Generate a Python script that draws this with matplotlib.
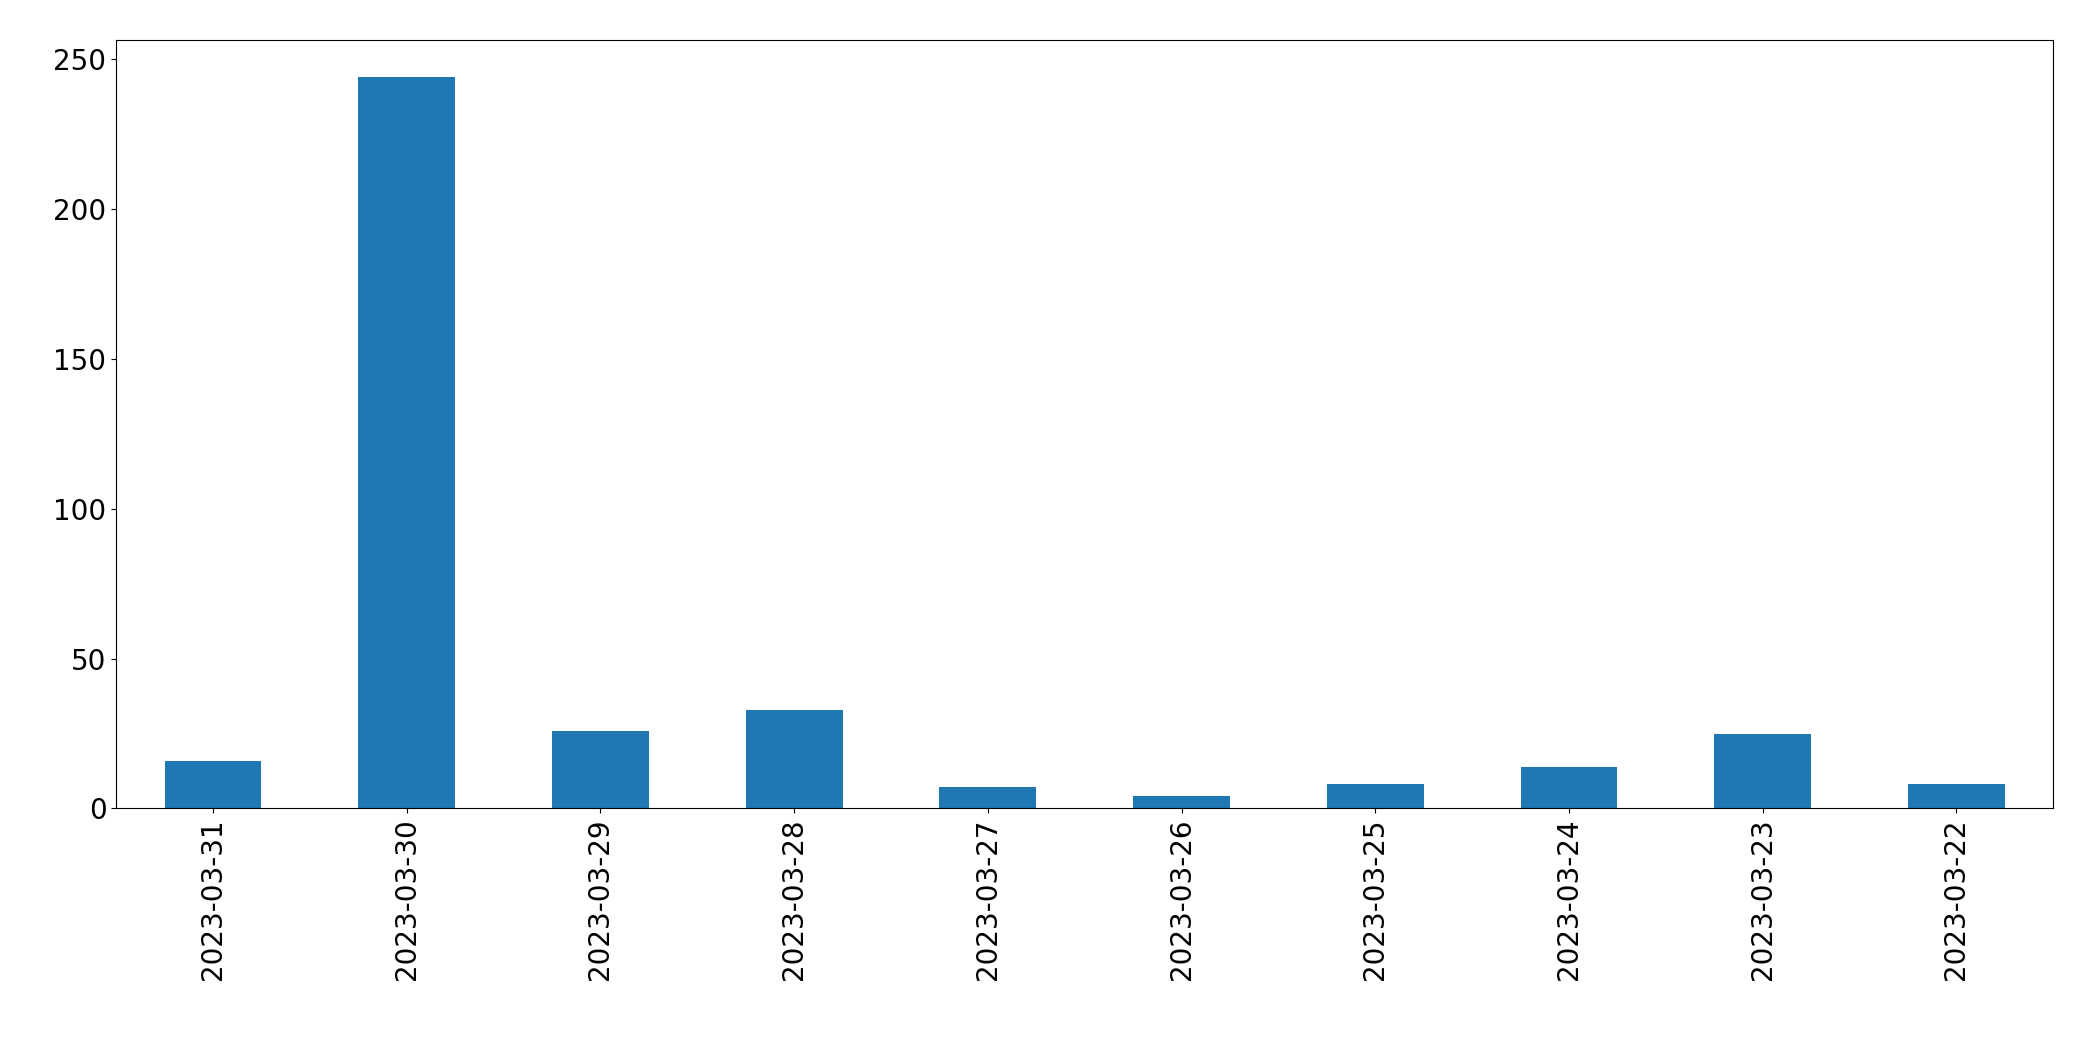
import matplotlib
matplotlib.use("Agg")
import matplotlib.pyplot as plt

dates = ["2023-03-31", "2023-03-30", "2023-03-29", "2023-03-28", "2023-03-27",
         "2023-03-26", "2023-03-25", "2023-03-24", "2023-03-23", "2023-03-22"]
counts = [16, 244, 26, 33, 7, 4, 8, 14, 25, 8]

fig = plt.figure(figsize=(20.93, 10.61), dpi=100)
ax = fig.add_axes([0.0555, 0.238, 0.9255, 0.724])
x = range(len(dates))
ax.bar(x, counts, width=0.5, color="#1f77b4")
ax.set_xlim(-0.5, len(dates) - 0.5)
ax.set_ylim(0, max(counts) * 1.05)
ax.set_xticks(list(x))
ax.set_xticklabels(dates, rotation=90, fontsize=20)
ax.tick_params(axis="y", labelsize=20)
fig.savefig("out.png")
